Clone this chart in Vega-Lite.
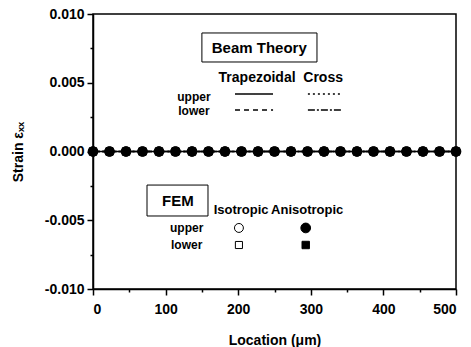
{
  "$schema": "https://vega.github.io/schema/vega-lite/v6.json",
  "width": 363,
  "height": 275,
  "autosize": {"type": "none"},
  "padding": {"left": 93, "top": 14, "right": 15, "bottom": 58},
  "config": {
    "font": "Liberation Sans",
    "view": {"stroke": "black", "strokeWidth": 1.5},
    "axis": {
      "labelFont": "Liberation Sans",
      "titleFont": "Liberation Sans",
      "labelFontWeight": "bold",
      "titleFontWeight": "bold",
      "labelFontSize": 14,
      "titleFontSize": 14,
      "labelColor": "black",
      "titleColor": "black",
      "domainColor": "black",
      "domainWidth": 1.5,
      "tickColor": "black",
      "tickWidth": 1.5,
      "grid": false
    }
  },
  "datasets": {
    "beam": [
      {"x": 0, "y": 0, "model": "Cross lower"},
      {"x": 500, "y": 0, "model": "Cross lower"},
      {"x": 0, "y": 0, "model": "Cross upper"},
      {"x": 500, "y": 0, "model": "Cross upper"},
      {"x": 0, "y": 0, "model": "Trapezoidal lower"},
      {"x": 500, "y": 0, "model": "Trapezoidal lower"},
      {"x": 0, "y": 0, "model": "Trapezoidal upper"},
      {"x": 500, "y": 0, "model": "Trapezoidal upper"}
    ],
    "femLower": [
      {"x": 0, "y": 0, "model": "Isotropic lower"}, {"x": 22.7, "y": 0, "model": "Isotropic lower"}, {"x": 45.5, "y": 0, "model": "Isotropic lower"}, {"x": 68.2, "y": 0, "model": "Isotropic lower"}, {"x": 90.9, "y": 0, "model": "Isotropic lower"}, {"x": 113.6, "y": 0, "model": "Isotropic lower"}, {"x": 136.4, "y": 0, "model": "Isotropic lower"}, {"x": 159.1, "y": 0, "model": "Isotropic lower"}, {"x": 181.8, "y": 0, "model": "Isotropic lower"}, {"x": 204.5, "y": 0, "model": "Isotropic lower"}, {"x": 227.3, "y": 0, "model": "Isotropic lower"}, {"x": 250, "y": 0, "model": "Isotropic lower"}, {"x": 272.7, "y": 0, "model": "Isotropic lower"}, {"x": 295.5, "y": 0, "model": "Isotropic lower"}, {"x": 318.2, "y": 0, "model": "Isotropic lower"}, {"x": 340.9, "y": 0, "model": "Isotropic lower"}, {"x": 363.6, "y": 0, "model": "Isotropic lower"}, {"x": 386.4, "y": 0, "model": "Isotropic lower"}, {"x": 409.1, "y": 0, "model": "Isotropic lower"}, {"x": 431.8, "y": 0, "model": "Isotropic lower"}, {"x": 454.5, "y": 0, "model": "Isotropic lower"}, {"x": 477.3, "y": 0, "model": "Isotropic lower"}, {"x": 500, "y": 0, "model": "Isotropic lower"},
      {"x": 0, "y": 0, "model": "Anisotropic lower"}, {"x": 22.7, "y": 0, "model": "Anisotropic lower"}, {"x": 45.5, "y": 0, "model": "Anisotropic lower"}, {"x": 68.2, "y": 0, "model": "Anisotropic lower"}, {"x": 90.9, "y": 0, "model": "Anisotropic lower"}, {"x": 113.6, "y": 0, "model": "Anisotropic lower"}, {"x": 136.4, "y": 0, "model": "Anisotropic lower"}, {"x": 159.1, "y": 0, "model": "Anisotropic lower"}, {"x": 181.8, "y": 0, "model": "Anisotropic lower"}, {"x": 204.5, "y": 0, "model": "Anisotropic lower"}, {"x": 227.3, "y": 0, "model": "Anisotropic lower"}, {"x": 250, "y": 0, "model": "Anisotropic lower"}, {"x": 272.7, "y": 0, "model": "Anisotropic lower"}, {"x": 295.5, "y": 0, "model": "Anisotropic lower"}, {"x": 318.2, "y": 0, "model": "Anisotropic lower"}, {"x": 340.9, "y": 0, "model": "Anisotropic lower"}, {"x": 363.6, "y": 0, "model": "Anisotropic lower"}, {"x": 386.4, "y": 0, "model": "Anisotropic lower"}, {"x": 409.1, "y": 0, "model": "Anisotropic lower"}, {"x": 431.8, "y": 0, "model": "Anisotropic lower"}, {"x": 454.5, "y": 0, "model": "Anisotropic lower"}, {"x": 477.3, "y": 0, "model": "Anisotropic lower"}, {"x": 500, "y": 0, "model": "Anisotropic lower"}
    ],
    "femUpper": [
      {"x": 0, "y": 0, "model": "Isotropic upper"}, {"x": 22.7, "y": 0, "model": "Isotropic upper"}, {"x": 45.5, "y": 0, "model": "Isotropic upper"}, {"x": 68.2, "y": 0, "model": "Isotropic upper"}, {"x": 90.9, "y": 0, "model": "Isotropic upper"}, {"x": 113.6, "y": 0, "model": "Isotropic upper"}, {"x": 136.4, "y": 0, "model": "Isotropic upper"}, {"x": 159.1, "y": 0, "model": "Isotropic upper"}, {"x": 181.8, "y": 0, "model": "Isotropic upper"}, {"x": 204.5, "y": 0, "model": "Isotropic upper"}, {"x": 227.3, "y": 0, "model": "Isotropic upper"}, {"x": 250, "y": 0, "model": "Isotropic upper"}, {"x": 272.7, "y": 0, "model": "Isotropic upper"}, {"x": 295.5, "y": 0, "model": "Isotropic upper"}, {"x": 318.2, "y": 0, "model": "Isotropic upper"}, {"x": 340.9, "y": 0, "model": "Isotropic upper"}, {"x": 363.6, "y": 0, "model": "Isotropic upper"}, {"x": 386.4, "y": 0, "model": "Isotropic upper"}, {"x": 409.1, "y": 0, "model": "Isotropic upper"}, {"x": 431.8, "y": 0, "model": "Isotropic upper"}, {"x": 454.5, "y": 0, "model": "Isotropic upper"}, {"x": 477.3, "y": 0, "model": "Isotropic upper"}, {"x": 500, "y": 0, "model": "Isotropic upper"},
      {"x": 0, "y": 0, "model": "Anisotropic upper"}, {"x": 22.7, "y": 0, "model": "Anisotropic upper"}, {"x": 45.5, "y": 0, "model": "Anisotropic upper"}, {"x": 68.2, "y": 0, "model": "Anisotropic upper"}, {"x": 90.9, "y": 0, "model": "Anisotropic upper"}, {"x": 113.6, "y": 0, "model": "Anisotropic upper"}, {"x": 136.4, "y": 0, "model": "Anisotropic upper"}, {"x": 159.1, "y": 0, "model": "Anisotropic upper"}, {"x": 181.8, "y": 0, "model": "Anisotropic upper"}, {"x": 204.5, "y": 0, "model": "Anisotropic upper"}, {"x": 227.3, "y": 0, "model": "Anisotropic upper"}, {"x": 250, "y": 0, "model": "Anisotropic upper"}, {"x": 272.7, "y": 0, "model": "Anisotropic upper"}, {"x": 295.5, "y": 0, "model": "Anisotropic upper"}, {"x": 318.2, "y": 0, "model": "Anisotropic upper"}, {"x": 340.9, "y": 0, "model": "Anisotropic upper"}, {"x": 363.6, "y": 0, "model": "Anisotropic upper"}, {"x": 386.4, "y": 0, "model": "Anisotropic upper"}, {"x": 409.1, "y": 0, "model": "Anisotropic upper"}, {"x": 431.8, "y": 0, "model": "Anisotropic upper"}, {"x": 454.5, "y": 0, "model": "Anisotropic upper"}, {"x": 477.3, "y": 0, "model": "Anisotropic upper"}, {"x": 500, "y": 0, "model": "Anisotropic upper"}
    ],
    "boxes": [
      {"x": 150, "x2": 308.5, "y": 0.00862, "y2": 0.00651},
      {"x": 74.4, "x2": 158.4, "y": -0.00244, "y2": -0.00469}
    ],
    "boxTitles": [
      {"x": 229, "y": 0.00756, "text": "Beam Theory"},
      {"x": 117, "y": -0.0036, "text": "FEM"}
    ],
    "beamHeaders": [
      {"x": 226, "y": 0.00535, "text": "Trapezoidal"},
      {"x": 317, "y": 0.00535, "text": "Cross"}
    ],
    "femHeaders": [
      {"x": 204, "y": -0.00426, "text": "Isotropic"},
      {"x": 295, "y": -0.00426, "text": "Anisotropic"}
    ],
    "rowLabels": [
      {"x": 139, "y": 0.00398, "text": "upper"},
      {"x": 139, "y": 0.00296, "text": "lower"},
      {"x": 129, "y": -0.00556, "text": "upper"},
      {"x": 129, "y": -0.0068, "text": "lower"}
    ],
    "beamLegend": [
      {"x": 195.6, "x2": 248, "y": 0.00418, "model": "Trapezoidal upper"},
      {"x": 296, "x2": 343, "y": 0.00418, "model": "Cross upper"},
      {"x": 195.6, "x2": 248, "y": 0.00302, "model": "Trapezoidal lower"},
      {"x": 296, "x2": 343, "y": 0.00302, "model": "Cross lower"}
    ],
    "femLegend": [
      {"x": 201, "y": -0.00556, "model": "Isotropic upper"},
      {"x": 201, "y": -0.0068, "model": "Isotropic lower"},
      {"x": 293, "y": -0.0068, "model": "Anisotropic lower"},
      {"x": 293, "y": -0.00556, "model": "Anisotropic upper"}
    ]
  },
  "encoding": {
    "x": {
      "field": "x", "type": "quantitative",
      "scale": {"domain": [0, 500], "nice": false},
      "axis": {
        "title": "Location (μm)",
        "values": [0, 50, 100, 150, 200, 250, 300, 350, 400, 450, 500],
        "labelExpr": "datum.value % 100 === 0 ? datum.label : ''",
        "tickSize": {"condition": {"test": "datum.value % 100 === 0", "value": 6}, "value": 3},
        "labelPadding": 7,
        "titlePadding": 17
      }
    },
    "y": {
      "field": "y", "type": "quantitative",
      "scale": {"domain": [-0.01, 0.01], "nice": false, "zero": false},
      "axis": {
        "title": "Strain εₓₓ",
        "values": [-0.01, -0.0075, -0.005, -0.0025, 0, 0.0025, 0.005, 0.0075, 0.01],
        "labelExpr": "abs((datum.value * 1000) % 5) < 0.001 ? replace(format(datum.value, '.3f'), '\u2212', '-') : ''",
        "tickSize": {"condition": {"test": "abs((datum.value * 1000) % 5) < 0.001", "value": 6}, "value": 3},
        "labelPadding": 3,
        "titlePadding": 19
      }
    },
    "shape": {"field": "model", "type": "nominal", "legend": null,
      "scale": {"domain": ["Isotropic upper", "Isotropic lower", "Anisotropic upper", "Anisotropic lower"], "range": ["circle", "square", "circle", "square"]}},
    "fill": {"field": "model", "type": "nominal", "legend": null,
      "scale": {"domain": ["Isotropic upper", "Isotropic lower", "Anisotropic upper", "Anisotropic lower"], "range": ["white", "white", "black", "black"]}},
    "size": {"field": "model", "type": "nominal", "legend": null,
      "scale": {"type": "ordinal", "domain": ["Isotropic upper", "Isotropic lower", "Anisotropic upper", "Anisotropic lower"], "range": [80, 50, 95, 55]}}
  },
  "layer": [
    {
      "data": {"name": "beam"},
      "mark": {"type": "line", "color": "black", "strokeWidth": 1.5},
      "encoding": {
        "shape": null, "fill": null, "size": null,
        "detail": {"field": "model"},
        "strokeDash": {
          "field": "model", "type": "nominal", "legend": null,
          "scale": {"domain": ["Trapezoidal upper", "Trapezoidal lower", "Cross upper", "Cross lower"], "range": [[1, 0], [5, 4], [2, 3], [7, 2, 2, 2]]}
        }
      }
    },
    {
      "data": {"name": "femLower"},
      "mark": {"type": "point", "stroke": "black", "strokeWidth": 1, "opacity": 1}
    },
    {
      "data": {"name": "femUpper"},
      "mark": {"type": "point", "stroke": "black", "strokeWidth": 1, "opacity": 1}
    },
    {
      "data": {"name": "boxes"},
      "mark": {"type": "rect", "fill": "white", "stroke": "black", "strokeWidth": 1},
      "encoding": {
        "shape": null, "fill": null, "size": null,
        "x2": {"field": "x2"},
        "y2": {"field": "y2"}
      }
    },
    {
      "data": {"name": "boxTitles"},
      "mark": {"type": "text", "font": "Liberation Sans", "fontWeight": "bold", "fontSize": 15, "color": "black", "align": "center", "baseline": "middle"},
      "encoding": {"shape": null, "fill": null, "size": null, "text": {"field": "text"}}
    },
    {
      "data": {"name": "beamHeaders"},
      "mark": {"type": "text", "font": "Liberation Sans", "fontWeight": "bold", "fontSize": 14, "color": "black", "align": "center", "baseline": "middle"},
      "encoding": {"shape": null, "fill": null, "size": null, "text": {"field": "text"}}
    },
    {
      "data": {"name": "femHeaders"},
      "mark": {"type": "text", "font": "Liberation Sans", "fontWeight": "bold", "fontSize": 13, "color": "black", "align": "center", "baseline": "middle"},
      "encoding": {"shape": null, "fill": null, "size": null, "text": {"field": "text"}}
    },
    {
      "data": {"name": "rowLabels"},
      "mark": {"type": "text", "font": "Liberation Sans", "fontWeight": "bold", "fontSize": 12, "color": "black", "align": "center", "baseline": "middle"},
      "encoding": {"shape": null, "fill": null, "size": null, "text": {"field": "text"}}
    },
    {
      "data": {"name": "beamLegend"},
      "mark": {"type": "rule", "color": "black", "strokeWidth": 1.5},
      "encoding": {
        "shape": null, "fill": null, "size": null,
        "x2": {"field": "x2"},
        "strokeDash": {"field": "model", "type": "nominal", "legend": null}
      }
    },
    {
      "data": {"name": "femLegend"},
      "mark": {"type": "point", "stroke": "black", "strokeWidth": 1, "opacity": 1}
    }
  ]
}
